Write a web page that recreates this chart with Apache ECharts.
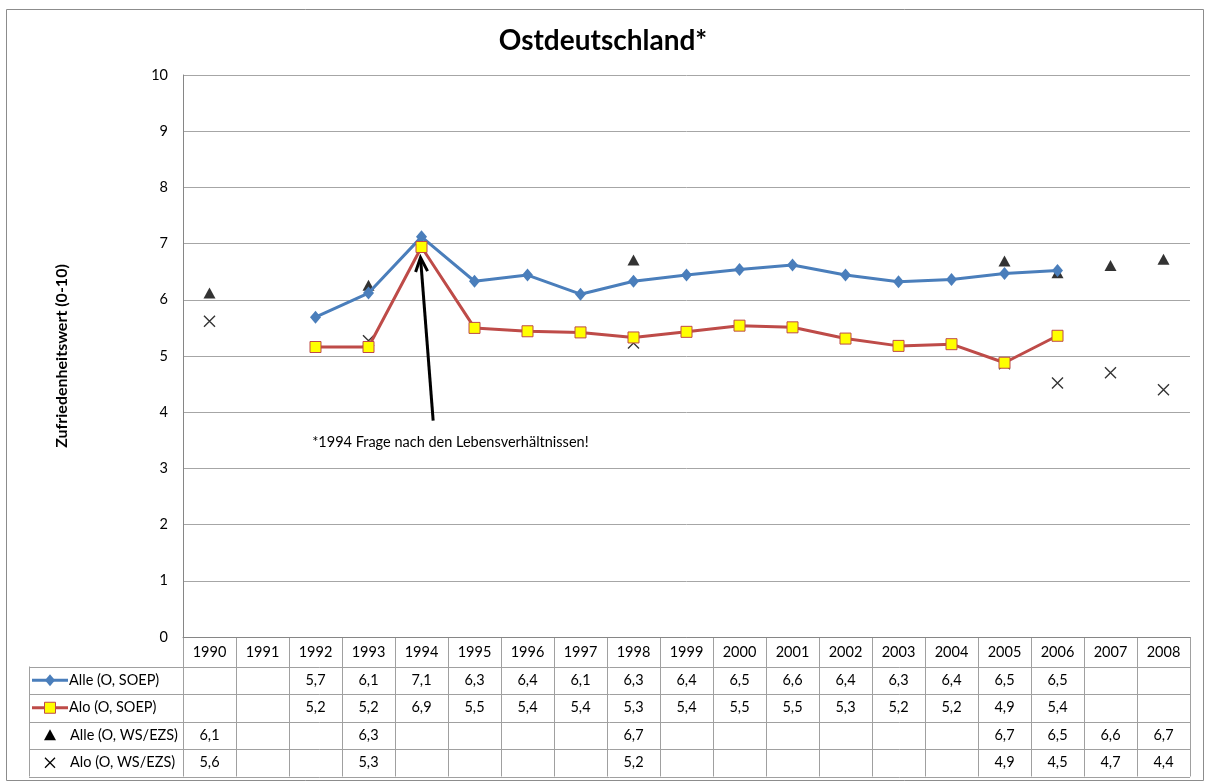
<!DOCTYPE html>
<html>
<head>
<meta charset="utf-8">
<script src="https://cdn.jsdelivr.net/npm/echarts@6/dist/echarts.min.js"></script>
<style>
    html, body { margin: 0; padding: 0; background: #fff; }
    #chart_ost { width: 1206px; height: 783px; }
</style>
</head>
<body>
<div id="chart_ost"></div>
<script>
const jahre = ['1990', '1991', '1992', '1993', '1994', '1995', '1996', '1997', '1998', '1999',
    '2000', '2001', '2002', '2003', '2004', '2005', '2006', '2007', '2008'];

const alleSoep = [null, null, 5.69, 6.12, 7.12, 6.33, 6.44, 6.10, 6.33, 6.44,
    6.54, 6.62, 6.44, 6.32, 6.36, 6.47, 6.52, null, null];
const aloSoep = [null, null, 5.16, 5.16, 6.94, 5.50, 5.44, 5.42, 5.33, 5.43,
    5.54, 5.51, 5.31, 5.18, 5.21, 4.88, 5.36, null, null];
const alleWs = [6.12, null, null, 6.26, null, null, null, null, 6.71, null,
    null, null, null, null, null, 6.69, 6.48, 6.61, 6.72];
const aloWs = [5.62, null, null, 5.27, null, null, null, null, 5.23, null,
    null, null, null, null, null, 4.86, 4.52, 4.70, 4.40];

const yTicks = [0, 1, 2, 3, 4, 5, 6, 7, 8, 9, 10];
const reihenNamen = ['Alle (O, SOEP)', 'Alo (O, SOEP)', 'Alle (O, WS/EZS)', 'Alo (O, WS/EZS)'];
const titel = 'Ostdeutschland*';
const yTitel = 'Zufriedenheitswert (0-10)';
const hinweis = '*1994 Frage nach den Lebensverhältnissen!';

const FONT = 'Lato, "Liberation Sans", sans-serif';
const BLAU = '#4a7ebb';
const ROT = '#be4b48';
const GELB = '#ffff00';
const KREUZ = 'path://M0,0L10,10M10,0L0,10';
const TXT = 14.5;

function fmt(v) {
    return v == null ? '' : v.toFixed(1).replace('.', ',');
}

window.renderChartOst = function () {
    const div = document.getElementById('chart_ost');
    if (!div) return;
    const chart = echarts.init(div, null, { renderer: 'canvas' });

    const option = {
        animation: false,
        textStyle: { fontFamily: FONT },
        title: {
            text: titel,
            left: 'center',
            top: 22,
            textStyle: { fontFamily: FONT, fontSize: 28, fontWeight: 'bold', color: '#000' }
        },
        grid: { left: 183, right: 16, top: 75, bottom: 146 },
        xAxis: {
            type: 'category',
            data: jahre,
            boundaryGap: true,
            axisLine: { show: true, lineStyle: { color: '#868686', width: 1 } },
            axisTick: { show: false },
            axisLabel: { color: '#000', fontSize: TXT, margin: 8, fontFamily: FONT }
        },
        yAxis: {
            type: 'value',
            min: yTicks[0],
            max: yTicks[yTicks.length - 1],
            interval: 1,
            name: yTitel,
            nameLocation: 'middle',
            nameRotate: 90,
            nameGap: 113,
            nameTextStyle: { fontFamily: FONT, fontSize: 16, fontWeight: 'bold', color: '#000' },
            axisLine: { show: true, lineStyle: { color: '#868686', width: 1 } },
            axisTick: { show: false },
            axisLabel: { color: '#000', fontSize: TXT, margin: 15, fontFamily: FONT },
            splitLine: { show: true, lineStyle: { color: '#a6a6a6', width: 1 } }
        },
        series: [
            {
                name: reihenNamen[0],
                type: 'line',
                data: alleSoep,
                symbol: 'diamond',
                symbolSize: [11, 13],
                lineStyle: { color: BLAU, width: 3 },
                itemStyle: { color: BLAU }
            },
            {
                name: reihenNamen[1],
                type: 'line',
                data: aloSoep,
                symbol: 'rect',
                symbolSize: 11,
                lineStyle: { color: ROT, width: 3 },
                itemStyle: { color: GELB, borderColor: ROT, borderWidth: 1 }
            },
            {
                name: reihenNamen[2],
                type: 'scatter',
                data: alleWs,
                symbol: 'triangle',
                symbolSize: [12, 11],
                itemStyle: { color: '#000' }
            },
            {
                name: reihenNamen[3],
                type: 'scatter',
                data: aloWs,
                symbol: KREUZ,
                symbolSize: 11,
                itemStyle: { color: 'none', borderColor: '#000', borderWidth: 1.4 }
            }
        ]
    };

    chart.setOption(option);

    // Tabelle, Rahmen und Pfeil aus den Achsen berechnen
    const xs = jahre.map((j, i) => chart.convertToPixel({ xAxisIndex: 0 }, i));
    const band = xs[1] - xs[0];
    const links = xs[0] - band / 2;
    const rechts = xs[xs.length - 1] + band / 2;
    const y0 = chart.convertToPixel({ yAxisIndex: 0 }, 0);
    const kopfH = 29.5;
    const zeileH = 27.5;
    const tabLinks = 29;
    const tabOben = y0 + kopfH;
    const tabUnten = tabOben + zeileH * reihenNamen.length;
    const linie = { stroke: '#a0a0a0', lineWidth: 1 };

    const g = [];

    g.push({
        type: 'rect', silent: true,
        shape: { x: 6.5, y: 9.5, width: 1197, height: 771 },
        style: { fill: 'none', stroke: '#8c8c8c', lineWidth: 1 }
    });

    // senkrechte Linien
    for (let i = 0; i <= jahre.length; i++) {
        const x = Math.round(links + i * band) + 0.5;
        g.push({ type: 'line', silent: true, shape: { x1: x, y1: y0, x2: x, y2: tabUnten }, style: linie });
    }
    g.push({ type: 'line', silent: true, shape: { x1: tabLinks + 0.5, y1: tabOben, x2: tabLinks + 0.5, y2: tabUnten }, style: linie });

    // waagrechte Linien
    for (let r = 0; r <= reihenNamen.length; r++) {
        const y = Math.round(tabOben + r * zeileH) + 0.5;
        g.push({ type: 'line', silent: true, shape: { x1: tabLinks, y1: y, x2: rechts, y2: y }, style: linie });
    }

    const reihen = [alleSoep, aloSoep, alleWs, aloWs];
    reihen.forEach((werte, r) => {
        const yc = tabOben + (r + 0.5) * zeileH;
        werte.forEach((v, i) => {
            if (v == null) return;
            g.push({
                type: 'text', silent: true,
                x: xs[i], y: yc,
                style: { text: fmt(v), fill: '#000', font: TXT + 'px ' + FONT, align: 'center', verticalAlign: 'middle' }
            });
        });
    });

    // Legendenspalte
    const lx = 50;
    reihenNamen.forEach((name, r) => {
        const yc = tabOben + (r + 0.5) * zeileH;
        if (r === 0) {
            g.push({ type: 'line', silent: true, shape: { x1: 32, y1: yc, x2: 68, y2: yc }, style: { stroke: BLAU, lineWidth: 3 } });
            g.push({ type: 'polygon', silent: true, shape: { points: [[lx, yc - 6], [lx + 5, yc], [lx, yc + 6], [lx - 5, yc]] }, style: { fill: BLAU } });
        } else if (r === 1) {
            g.push({ type: 'line', silent: true, shape: { x1: 32, y1: yc, x2: 68, y2: yc }, style: { stroke: ROT, lineWidth: 3 } });
            g.push({ type: 'rect', silent: true, shape: { x: lx - 5.5, y: yc - 5.5, width: 11, height: 11 }, style: { fill: GELB, stroke: ROT, lineWidth: 1 } });
        } else if (r === 2) {
            g.push({ type: 'polygon', silent: true, shape: { points: [[lx, yc - 6], [lx + 6, yc + 5], [lx - 6, yc + 5]] }, style: { fill: '#000' } });
        } else {
            g.push({ type: 'line', silent: true, shape: { x1: lx - 5, y1: yc - 5, x2: lx + 5, y2: yc + 5 }, style: { stroke: '#000', lineWidth: 1.2 } });
            g.push({ type: 'line', silent: true, shape: { x1: lx + 5, y1: yc - 5, x2: lx - 5, y2: yc + 5 }, style: { stroke: '#000', lineWidth: 1.2 } });
        }
        g.push({
            type: 'text', silent: true,
            x: r < 2 ? 69 : 70, y: yc,
            style: { text: name, fill: '#000', font: TXT + 'px ' + FONT, align: 'left', verticalAlign: 'middle' }
        });
    });

    // Pfeil zum Wert 1994
    const i94 = jahre.indexOf('1994');
    const spitze = [xs[i94] - 1, chart.convertToPixel({ yAxisIndex: 0 }, 6.75)];
    const ende = [xs[i94] + band * 0.22, chart.convertToPixel({ yAxisIndex: 0 }, 3.85)];
    const dx = spitze[0] - ende[0], dy = spitze[1] - ende[1];
    const len = Math.sqrt(dx * dx + dy * dy);
    const ux = dx / len, uy = dy / len;
    const px = -uy, py = ux;
    const kopf = 14, breite = 6;
    g.push({ type: 'line', silent: true, shape: { x1: ende[0], y1: ende[1], x2: spitze[0] - ux, y2: spitze[1] - uy }, style: { stroke: '#000', lineWidth: 3 } });
    g.push({
        type: 'polyline', silent: true,
        shape: {
            points: [
                [spitze[0] - ux * kopf + px * breite, spitze[1] - uy * kopf + py * breite],
                [spitze[0], spitze[1]],
                [spitze[0] - ux * kopf - px * breite, spitze[1] - uy * kopf - py * breite]
            ]
        },
        style: { stroke: '#000', lineWidth: 3, fill: 'none' }
    });
    g.push({
        type: 'text', silent: true,
        x: ende[0] - 121, y: ende[1] + 22,
        style: { text: hinweis, fill: '#000', font: TXT + 'px ' + FONT, align: 'left', verticalAlign: 'middle' }
    });

    chart.setOption({ graphic: g });
};

window.renderChartOst();
</script>
</body>
</html>
